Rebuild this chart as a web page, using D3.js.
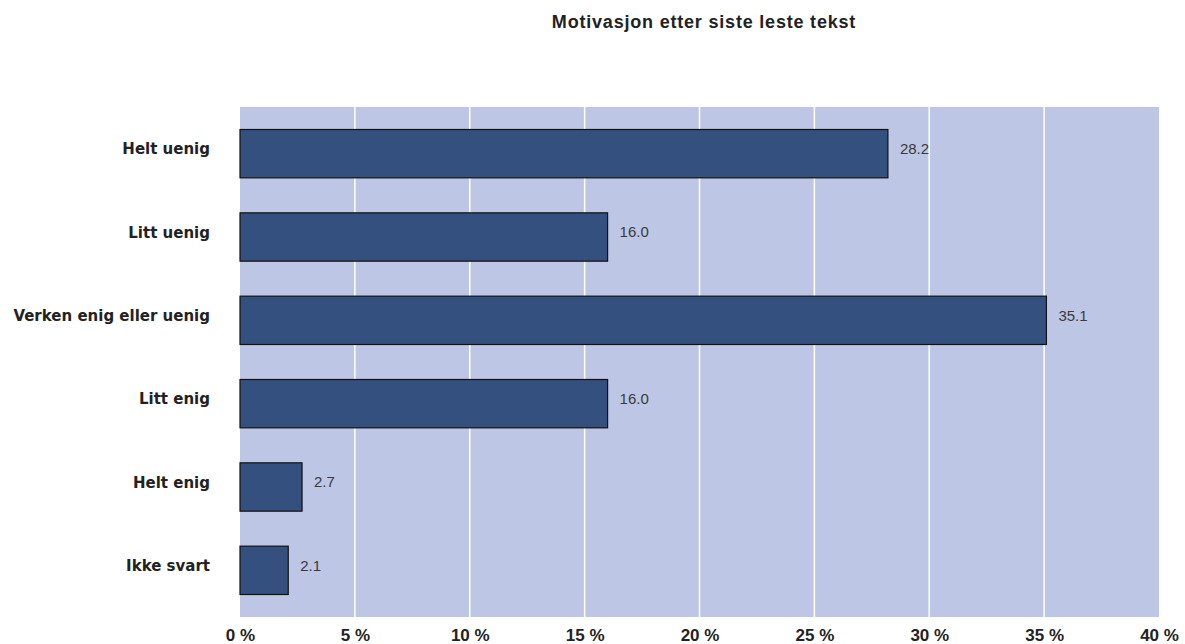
<!DOCTYPE html>
<html>
<head>
<meta charset="utf-8">
<script src="https://cdn.jsdelivr.net/npm/d3@7"></script>
<style>
  body { margin: 0; background: #fff; }
  text { font-family: "Liberation Sans", Arial, sans-serif; }
</style>
</head>
<body>
<div id="chart"></div>
<script>
const categories = ['Helt uenig', 'Litt uenig', 'Verken enig eller uenig', 'Litt enig', 'Helt enig', 'Ikke svart'];
const values = [28.2, 16.0, 35.1, 16.0, 2.7, 2.1];
const xTicks = [0, 5, 10, 15, 20, 25, 30, 35, 40];
const title = 'Motivasjon etter siste leste tekst';

const W = 1185, H = 644;
const plot = { left: 240, right: 1159, top: 107, bottom: 617 };

const svg = d3.select('#chart').append('svg')
  .attr('width', W)
  .attr('height', H);

const x = d3.scaleLinear().domain([0, 40]).range([plot.left, plot.right]);
const y = d3.scaleBand()
  .domain(categories)
  .range([plot.top, plot.bottom])
  .paddingInner(0.42)
  .paddingOuter(0.27);

// plot background
svg.append('rect')
  .attr('x', plot.left).attr('y', plot.top)
  .attr('width', plot.right - plot.left)
  .attr('height', plot.bottom - plot.top)
  .attr('fill', '#bdc6e5');

// vertical grid lines
svg.append('g')
  .selectAll('line')
  .data(xTicks.filter(d => d > 0 && d < 40))
  .join('line')
  .attr('x1', d => x(d)).attr('x2', d => x(d))
  .attr('y1', plot.top).attr('y2', plot.bottom)
  .attr('stroke', '#ffffff')
  .attr('stroke-width', 1.5);

// bars
svg.append('g')
  .selectAll('rect')
  .data(values)
  .join('rect')
  .attr('x', x(0))
  .attr('y', (d, i) => y(categories[i]))
  .attr('width', d => x(d) - x(0))
  .attr('height', y.bandwidth())
  .attr('fill', '#33507f')
  .attr('stroke', '#111')
  .attr('stroke-width', 1.2);

// value labels
svg.append('g')
  .selectAll('text')
  .data(values)
  .join('text')
  .attr('x', d => x(d) + 12)
  .attr('y', (d, i) => y(categories[i]) + y.bandwidth() / 2 - 5)
  .attr('dy', '0.35em')
  .attr('font-size', 15)
  .attr('fill', '#3a3a3a')
  .text(d => d.toFixed(1));

// category axis
svg.append('g')
  .attr('transform', `translate(${plot.left},-4)`)
  .call(d3.axisLeft(y).tickSize(0).tickPadding(30))
  .call(g => g.select('.domain').remove())
  .call(g => g.selectAll('text')
    .attr('font-size', 15)
    .attr('font-weight', 'bold')
    .attr('fill', '#222')
    .style('font-family', '"DejaVu Sans", Verdana, sans-serif'));

// value axis
svg.append('g')
  .attr('transform', `translate(0,${plot.bottom})`)
  .call(d3.axisBottom(x).tickValues(xTicks).tickSize(0).tickPadding(12).tickFormat(d => d + ' %'))
  .call(g => g.select('.domain').remove())
  .call(g => g.selectAll('text')
    .attr('font-size', 17)
    .attr('font-weight', 'bold')
    .attr('fill', '#222')
    .style('font-family', '"Liberation Sans", Arial, sans-serif'));

// title
svg.append('text')
  .attr('x', 704)
  .attr('y', 28)
  .attr('text-anchor', 'middle')
  .attr('font-size', 18)
  .attr('font-weight', 'bold')
  .attr('letter-spacing', 0.8)
  .attr('fill', '#222')
  .text(title);
</script>
</body>
</html>
